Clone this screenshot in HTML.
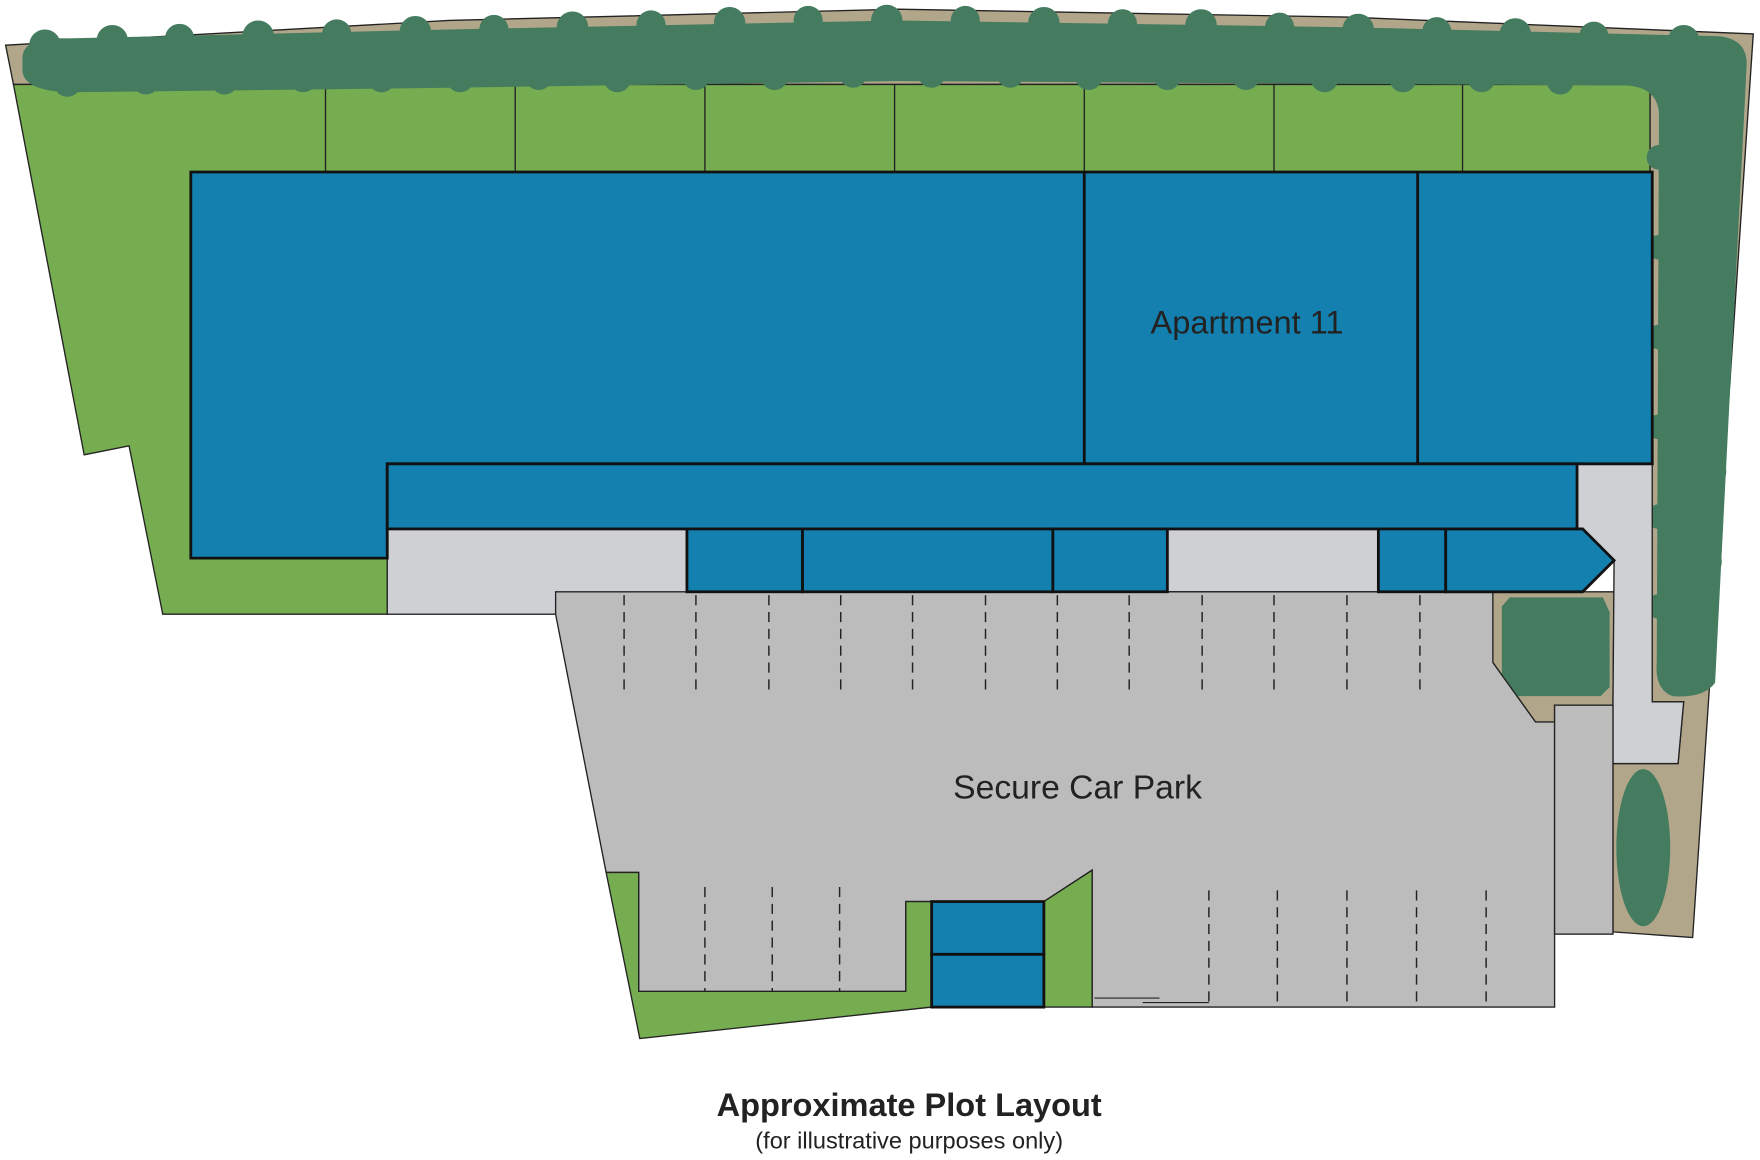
<!DOCTYPE html>
<html><head><meta charset="utf-8"><style>html,body{margin:0;padding:0;background:#fff}svg{display:block}</style></head>
<body>
<svg width="1760" height="1160" viewBox="0 0 1568 1033" xmlns="http://www.w3.org/2000/svg" font-family="Liberation Sans, sans-serif">
<polygon points="5,40 400,18 800,8 1200,15 1562,30 1508,835 1437,830 1437,680 1495,680 1500,625 1470,625 1470,75 12,75" fill="#b2a68a" stroke="#222" stroke-width="1.2"/>
<polygon points="12,75 1470,75 1470,153 170,153 170,497 345,497 345,547 145,547 115,397 75,405" fill="#76ad50" stroke="#222" stroke-width="1.2"/>
<g stroke="#222" stroke-width="1.2">
<line x1="290" y1="75" x2="290" y2="153"/><line x1="459" y1="75" x2="459" y2="153"/><line x1="628" y1="75" x2="628" y2="153"/><line x1="797" y1="75" x2="797" y2="153"/><line x1="966" y1="75" x2="966" y2="153"/><line x1="1135" y1="75" x2="1135" y2="153"/><line x1="1303" y1="75" x2="1303" y2="153"/>
</g>
<polygon points="1330,527 1438,527 1437,628 1385,628 1385,643 1368,643 1330,590" fill="#b2a68a" stroke="#222" stroke-width="1.2"/>
<g fill="#457c60">
<path d="M20,50 Q22,32 60,34 L400,26 L800,18 L1200,24 L1530,32 Q1558,34 1556,60 L1528,608 Q1518,622 1490,620 Q1474,614 1476,590 L1478,100 Q1476,78 1450,76 L800,72 L400,78 L60,82 Q20,80 20,62 Z"/>
<g>
<circle cx="40" cy="40" r="14"/><circle cx="100" cy="36" r="14"/><circle cx="160" cy="34" r="13"/><circle cx="230" cy="32" r="14"/><circle cx="300" cy="30" r="13"/><circle cx="370" cy="28" r="14"/><circle cx="440" cy="26" r="13"/><circle cx="510" cy="24" r="14"/><circle cx="580" cy="22" r="13"/><circle cx="650" cy="20" r="14"/><circle cx="720" cy="18" r="13"/><circle cx="790" cy="18" r="14"/><circle cx="860" cy="18" r="13"/><circle cx="930" cy="20" r="14"/><circle cx="1000" cy="21" r="13"/><circle cx="1070" cy="22" r="14"/><circle cx="1140" cy="24" r="13"/><circle cx="1210" cy="26" r="14"/><circle cx="1280" cy="28" r="13"/><circle cx="1350" cy="30" r="14"/><circle cx="1420" cy="32" r="13"/><circle cx="1500" cy="36" r="14"/>
<circle cx="60" cy="74" r="12"/><circle cx="130" cy="72" r="12"/><circle cx="200" cy="72" r="12"/><circle cx="270" cy="70" r="12"/><circle cx="340" cy="70" r="12"/><circle cx="410" cy="70" r="12"/><circle cx="480" cy="68" r="12"/><circle cx="550" cy="70" r="12"/><circle cx="620" cy="68" r="12"/><circle cx="690" cy="68" r="12"/><circle cx="760" cy="66" r="12"/><circle cx="830" cy="66" r="12"/><circle cx="900" cy="66" r="12"/><circle cx="970" cy="68" r="12"/><circle cx="1040" cy="68" r="12"/><circle cx="1110" cy="68" r="12"/><circle cx="1180" cy="70" r="12"/><circle cx="1250" cy="70" r="12"/><circle cx="1320" cy="70" r="12"/><circle cx="1390" cy="72" r="12"/>
<circle cx="1540" cy="100" r="13"/><circle cx="1537" cy="180" r="13"/><circle cx="1533" cy="260" r="13"/><circle cx="1529" cy="340" r="13"/><circle cx="1525" cy="420" r="13"/><circle cx="1521" cy="500" r="13"/><circle cx="1517" cy="580" r="12"/>
<circle cx="1478" cy="140" r="11"/><circle cx="1478" cy="220" r="11"/><circle cx="1478" cy="300" r="11"/><circle cx="1478" cy="380" r="11"/><circle cx="1478" cy="460" r="11"/><circle cx="1478" cy="540" r="11"/>
</g>
<polygon points="1338,540 1345,532 1428,532 1434,545 1434,612 1426,620 1345,620 1338,610"/>
<ellipse cx="1464" cy="755" rx="24" ry="70"/>
</g>
<g fill="#cfd0d3" stroke="#222" stroke-width="1.2">
<rect x="345" y="471" width="267" height="76"/>
<rect x="1040" y="471" width="188" height="56"/>
<polygon points="1405,413 1472,413 1472,625 1500,625 1495,680 1437,680 1437,628 1438,499 1405,470"/>
</g>
<polygon points="495,527 1330,527 1330,590 1368,643 1385,643 1385,897 973,897 973,775 930,803 807,803 807,883 569,883 569,777 540,777 495,547" fill="#bcbcbc" stroke="#222" stroke-width="1.2"/>
<rect x="1385" y="628" width="52" height="204" fill="#bcbcbc" stroke="#222" stroke-width="1.2"/>
<polygon points="540,777 569,777 569,883 807,883 807,803 830,803 830,897 570,925" fill="#76ad50" stroke="#222" stroke-width="1.2"/>
<polygon points="930,803 973,775 973,897 930,897" fill="#76ad50" stroke="#222" stroke-width="1.2"/>
<line x1="975" y1="889" x2="1033" y2="889" stroke="#222"/><line x1="1018" y1="893" x2="1077" y2="893" stroke="#222"/>
<g stroke="#222" stroke-width="1.3" stroke-dasharray="9,6">
<line x1="556" y1="530" x2="556" y2="620"/><line x1="620" y1="530" x2="620" y2="620"/><line x1="685" y1="530" x2="685" y2="620"/><line x1="749" y1="530" x2="749" y2="620"/><line x1="813" y1="530" x2="813" y2="620"/><line x1="878" y1="530" x2="878" y2="620"/><line x1="942" y1="530" x2="942" y2="620"/><line x1="1006" y1="530" x2="1006" y2="620"/><line x1="1071" y1="530" x2="1071" y2="620"/><line x1="1135" y1="530" x2="1135" y2="620"/><line x1="1200" y1="530" x2="1200" y2="620"/><line x1="1265" y1="530" x2="1265" y2="620"/>
<line x1="628" y1="790" x2="628" y2="883"/><line x1="688" y1="790" x2="688" y2="883"/><line x1="748" y1="790" x2="748" y2="883"/>
<line x1="1077" y1="793" x2="1077" y2="897"/><line x1="1138" y1="793" x2="1138" y2="897"/><line x1="1200" y1="793" x2="1200" y2="897"/><line x1="1262" y1="793" x2="1262" y2="897"/><line x1="1324" y1="793" x2="1324" y2="897"/>
</g>
<g fill="#1380b0" stroke="#111" stroke-width="2.5">
<polygon points="170,153 1472,153 1472,413 345,413 345,497 170,497"/>
<rect x="345" y="413" width="1060" height="58"/>
<line x1="966" y1="153" x2="966" y2="413"/><line x1="1263" y1="153" x2="1263" y2="413"/>
<rect x="612" y="471" width="103" height="56"/>
<rect x="715" y="471" width="223" height="56"/>
<rect x="938" y="471" width="102" height="56"/>
<rect x="1228" y="471" width="60" height="56"/>
<polygon points="1288,471 1410,471 1438,499 1410,527 1288,527"/>
<rect x="830" y="803" width="100" height="47"/>
<rect x="830" y="850" width="100" height="47"/>
</g>
<text x="1111" y="297" font-size="29" text-anchor="middle" fill="#222">Apartment 11</text>
<text x="960" y="711" font-size="30" text-anchor="middle" fill="#222">Secure Car Park</text>
<text x="810" y="994" font-size="29" font-weight="bold" text-anchor="middle" fill="#222">Approximate Plot Layout</text>
<text x="810" y="1023" font-size="21" text-anchor="middle" fill="#222">(for illustrative purposes only)</text>
</svg>
</body></html>
